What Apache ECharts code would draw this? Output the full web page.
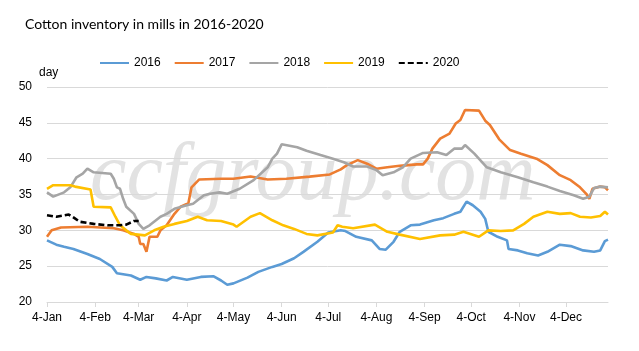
<!DOCTYPE html>
<html>
<head>
<meta charset="utf-8">
<script src="https://cdn.jsdelivr.net/npm/echarts@6/dist/echarts.min.js"></script>
<style>
  html, body { margin: 0; padding: 0; background: #fff; }
  #main { width: 639px; height: 351px; }
</style>
</head>
<body>
<div id="main"></div>
<script>
var myChart = echarts.init(document.getElementById('main'));

// days counted from 4-Jan
var monthTicks = [0, 31, 59, 90, 120, 151, 181, 212, 243, 273, 304, 334];
var monthLabels = ['4-Jan', '4-Feb', '4-Mar', '4-Apr', '4-May', '4-Jun', '4-Jul', '4-Aug', '4-Sep', '4-Oct', '4-Nov', '4-Dec'];

var years = ['2016', '2017', '2018', '2019', '2020'];

// [day, value]
var s2016 = [[0,28.6],[6,28.0],[11,27.7],[17,27.4],[26,26.7],[34,26.0],[42,24.9],[45,24.0],[54,23.7],[60,23.1],
  [64,23.5],[70,23.3],[77,23.0],[81,23.5],[90,23.1],[99,23.5],[107,23.6],[112,23.0],[116,22.4],[120,22.6],
  [129,23.4],[136,24.2],[145,24.9],[151,25.3],[159,26.1],[165,27.0],[174,28.4],[181,29.7],[189,30.0],[192,29.9],
  [199,29.1],[209,28.6],[214,27.4],[218,27.3],[223,28.4],[227,29.8],[234,30.7],[240,30.8],[249,31.4],[255,31.7],
  [262,32.3],[266,32.6],[270,34.0],[274,33.5],[279,32.6],[282,31.6],[284,29.8],[290,29.1],[296,28.6],[297,27.4],
  [303,27.2],[309,26.8],[316,26.5],[322,27.0],[330,28.0],[337,27.8],[345,27.2],[352,27.0],[356,27.2],[359,28.5],[361,28.7]];

var s2017 = [[0,29.1],[3,30.0],[9,30.4],[26,30.5],[43,30.3],[49,30.0],[56,29.5],[59,29.1],[60,28.1],[62,28.1],
  [64,27.0],[66,29.1],[71,29.1],[73,30.0],[77,30.7],[82,32.3],[86,33.3],[91,33.8],[93,36.0],[98,37.1],
  [112,37.2],[120,37.2],[131,37.5],[142,37.1],[154,37.2],[169,37.5],[182,37.8],[189,38.5],[193,39.1],[200,39.8],
  [206,39.3],[212,38.6],[219,38.8],[227,39.0],[238,39.2],[242,39.2],[245,40.0],[248,41.4],[253,42.8],[259,43.5],
  [263,44.9],[266,45.4],[269,46.8],[278,46.7],[282,45.3],[285,44.7],[291,42.7],[298,41.2],[305,40.7],[315,40.0],
  [322,39.1],[330,37.7],[337,37.0],[343,36.0],[347,35.1],[349,34.4],[351,35.8],[356,36.1],[359,36.0],[361,35.6]];

var s2018 = [[0,35.3],[4,34.7],[11,35.3],[15,36.0],[19,37.4],[23,37.9],[26,38.6],[30,38.1],[41,37.9],[43,37.2],
  [45,36.0],[47,35.8],[49,34.4],[51,33.3],[56,32.3],[59,30.9],[62,30.2],[66,30.7],[73,31.9],[77,32.3],
  [82,33.0],[90,33.5],[94,33.7],[101,34.9],[105,35.1],[111,35.3],[116,35.1],[124,35.8],[133,37.0],[142,38.8],
  [145,40.0],[148,40.7],[151,42.0],[161,41.6],[167,41.1],[176,40.5],[184,40.0],[191,39.5],[197,38.9],[206,38.9],
  [212,38.4],[216,37.7],[223,38.1],[229,38.8],[234,40.0],[242,40.8],[251,40.9],[257,40.5],[262,41.4],[267,41.4],
  [269,41.9],[275,40.7],[283,38.8],[292,38.1],[303,37.4],[313,36.7],[322,36.1],[330,35.5],[339,34.9],[345,34.4],
  [349,34.7],[352,35.9],[356,36.1],[361,36.0]];

var s2019 = [[0,35.8],[4,36.3],[15,36.3],[18,36.1],[28,35.7],[30,33.3],[41,33.2],[44,31.9],[47,30.7],[54,29.5],
  [63,29.3],[69,30.0],[75,30.5],[82,30.9],[90,31.3],[97,31.9],[103,31.4],[112,31.3],[120,30.8],[122,30.5],
  [131,31.9],[137,32.4],[145,31.4],[152,30.7],[159,30.2],[167,29.5],[174,29.3],[184,29.7],[187,30.7],[190,30.5],
  [197,30.3],[211,30.8],[219,29.8],[227,29.4],[240,28.8],[253,29.3],[262,29.4],[268,29.8],[278,29.1],[284,30.0],
  [292,29.9],[300,30.0],[307,30.9],[313,31.9],[322,32.6],[330,32.3],[337,32.4],[343,31.9],[350,31.8],[356,32.0],
  [359,32.6],[361,32.2]];

var s2020 = [[0,32.1],[6,31.9],[14,32.2],[17,31.8],[21,31.2],[30,30.9],[39,30.7],[47,30.7],[51,30.8],[56,31.3],[59,31.3]];

var colors = ['#5B9BD5', '#ED7D31', '#A5A5A5', '#FFC000', '#000000'];
var seriesData = [s2016, s2017, s2018, s2019, s2020];

var series = [];
for (var i = 0; i < years.length; i++) {
    series.push({
        name: years[i],
        type: 'line',
        data: seriesData[i],
        symbol: 'none',
        z: 3,
        lineStyle: {
            width: 2.6,
            color: colors[i],
            type: i === 4 ? [6, 3] : 'solid'
        },
        itemStyle: { color: colors[i] }
    });
}

var font = 'Liberation Sans';

option = {
    animation: false,
    backgroundColor: '#fff',
    title: {
        text: 'Cotton inventory in mills in 2016-2020',
        left: 20,
        top: 12,
        textStyle: { fontFamily: 'Lato', fontSize: 14, fontWeight: 'normal', color: '#000' }
    },
    legend: {
        data: years,
        top: 52,
        left: 94,
        itemGap: 13,
        itemWidth: 29,
        itemHeight: 10,
        itemStyle: { opacity: 0 },
        textStyle: { fontFamily: font, fontSize: 12, color: '#000' }
    },
    graphic: [{
        type: 'text',
        left: 90,
        top: 136,
        z: 0,
        silent: true,
        style: {
            text: 'ccfgroup.com',
            font: 'italic 82px "Liberation Serif"',
            fill: '#e2e2e2'
        }
    }],
    grid: { left: 47, right: 31, top: 87, bottom: 49 },
    xAxis: {
        type: 'value',
        min: 0,
        max: 361,
        splitLine: { show: false },
        axisLine: { lineStyle: { color: '#d9d9d9', width: 1 } },
        axisTick: {
            customValues: monthTicks,
            length: 5,
            lineStyle: { color: '#d9d9d9' }
        },
        axisLabel: {
            customValues: monthTicks,
            margin: 10,
            fontFamily: font,
            fontSize: 12,
            color: '#000',
            formatter: function (v) {
                var k = monthTicks.indexOf(v);
                return k >= 0 ? monthLabels[k] : '';
            }
        }
    },
    yAxis: {
        type: 'value',
        name: 'day',
        nameLocation: 'end',
        nameGap: 8,
        nameTextStyle: { fontFamily: font, fontSize: 12, color: '#000', align: 'left', padding: [0, 0, 0, -8] },
        min: 20,
        max: 50,
        interval: 5,
        axisLine: { show: false },
        axisTick: { show: false },
        splitLine: { lineStyle: { color: '#d9d9d9', width: 1 } },
        axisLabel: { fontFamily: font, fontSize: 12, color: '#000', margin: 15 }
    },
    series: series
};

myChart.setOption(option);
</script>
</body>
</html>
